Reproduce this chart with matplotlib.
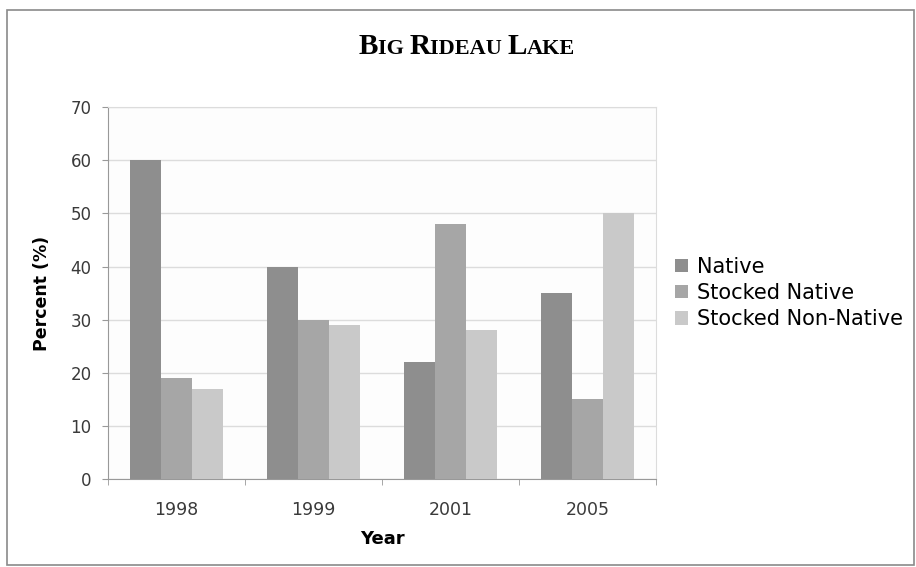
import numpy as np
import matplotlib
matplotlib.use("Agg")
import matplotlib.pyplot as plt
from matplotlib.patches import Rectangle
from matplotlib.offsetbox import TextArea, HPacker, AnchoredOffsetbox

# Big Rideau Lake - share of fish by origin per survey year
years = ["1998", "1999", "2001", "2005"]
native = [60, 40, 22, 35]
stocked_native = [19, 30, 48, 15]
stocked_non_native = [17, 29, 28, 50]
series_names = ["Native", "Stocked Native", "Stocked Non-Native"]
colors = ["#8e8e8e", "#a6a6a6", "#c9c9c9"]

fig = plt.figure(figsize=(9.16, 5.67), dpi=100)
fig.patches.append(Rectangle((7 / 916, 2 / 567), 907 / 916, 555 / 567,
                             transform=fig.transFigure, fill=False,
                             edgecolor="#8a8a8a", linewidth=1.2))

ax = fig.add_axes([0.118, 0.155, 0.598, 0.656])
ax.set_facecolor("#fdfdfd")

x = np.arange(len(years))
w = 0.226
for i, vals in enumerate([native, stocked_native, stocked_non_native]):
    ax.bar(x + (i - 1) * w, vals, w, color=colors[i], label=series_names[i],
           zorder=3)

ax.set_xlim(-0.5, len(years) - 0.5)
ax.set_ylim(0, 70)
ax.set_yticks(range(0, 71, 10))
ax.set_xticks(x)
ax.set_xticklabels(years)
ax.set_xticks(np.arange(-0.5, len(years), 1), minor=True)
ax.tick_params(axis="x", which="major", length=0, pad=16, labelsize=12.5,
               labelcolor="#3a3a3a")
ax.tick_params(axis="x", which="minor", length=4, color="#999999")
ax.tick_params(axis="y", length=4, color="#999999", labelsize=12,
               labelcolor="#3a3a3a", pad=8)
ax.grid(axis="y", color="#dcdcdc", linewidth=1, zorder=0)
for s in ["top", "right"]:
    ax.spines[s].set_color("#dcdcdc")
for s in ["left", "bottom"]:
    ax.spines[s].set_color("#999999")

ax.set_ylabel("Percent (%)", fontsize=12.5, fontweight="bold", labelpad=14)
ax.set_xlabel("Year", fontsize=13, fontweight="bold", labelpad=8)

ax.legend(loc="center left", bbox_to_anchor=(1.02, 0.5), frameon=False,
          fontsize=15, handlelength=0.6, handleheight=0.6, handletextpad=0.45,
          labelspacing=0.3, borderaxespad=0)

# small caps title
parts = [("B", 21), ("IG ", 16), ("R", 21), ("IDEAU ", 16), ("L", 21), ("AKE", 16)]
boxes = [TextArea(t, textprops=dict(fontsize=s, fontweight="bold",
                                    family="Liberation Serif")) for t, s in parts]
pack = HPacker(children=boxes, align="baseline", pad=0, sep=0)
title = AnchoredOffsetbox(loc="center", child=pack, frameon=False,
                          bbox_to_anchor=(467 / 916, 1 - 46 / 567),
                          bbox_transform=fig.transFigure, pad=0, borderpad=0)
fig.add_artist(title)

fig.savefig("out.png", dpi=100)
